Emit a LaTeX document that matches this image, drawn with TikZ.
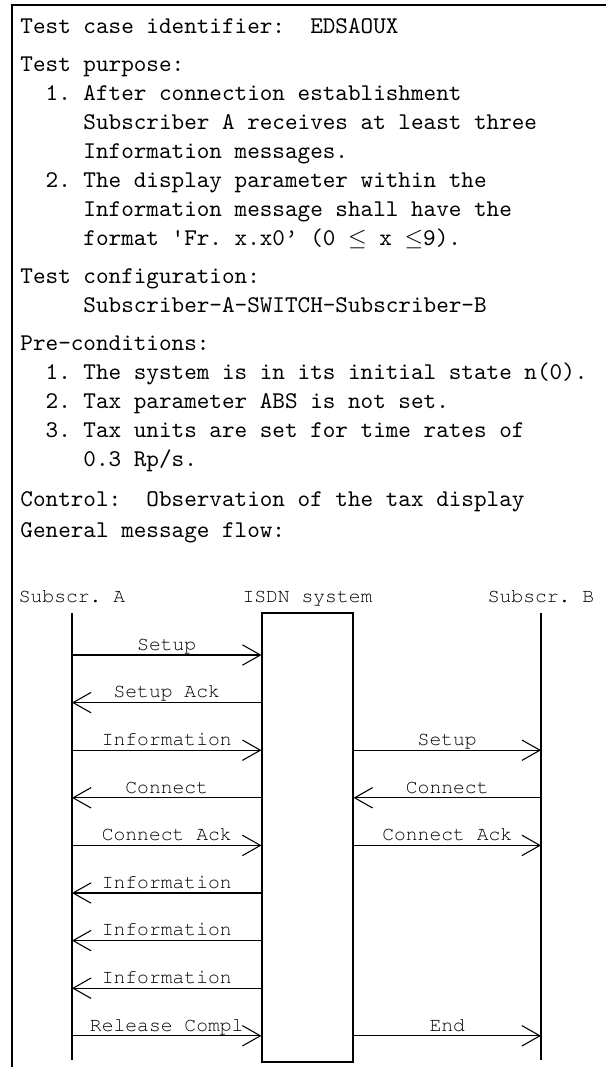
\documentclass[tikz,border=0pt]{standalone}
\usepackage[T1]{fontenc}
\usepackage{fontspec}
\usepackage{tikz}
\usetikzlibrary{arrows.meta}
\frenchspacing
\newcommand{\chartfont}{\fontencoding{T1}\fontfamily{pcr}\fontsize{8.2}{10}\selectfont}
\tikzset{
    % Lines of the test description
    descline/.style={
        anchor=base west,
        inner sep=0pt,
        font=\ttfamily
    },
    % Frame round the sheet
    sheetframe/.style={
        line width=1.2pt,
        draw=black
    },
    % Lifelines
    lifeline/.style={
        line width=0.45pt,
        draw=black
    },
    % System box
    sysbox/.style={
        draw=black,
        line width=0.45pt,
        minimum width=37.9pt,
        minimum height=187.1pt,
        inner sep=0pt
    },
    % Column headings
    colhead/.style={
        anchor=base,
        inner sep=0pt,
        font=\chartfont
    },
    % Message arrows
    msgarrow/.style={
        -{Straight Barb[length=7.5pt,width=8.5pt]},
        line width=0.45pt,
        draw=black
    },
    % Message labels
    msglabel/.style={
        midway,
        anchor=base,
        yshift=2pt,
        inner sep=0pt,
        font=\chartfont
    }
}

\begin{document}
\begin{tikzpicture}[x=0.41667pt, y=-0.41667pt]
        \useasboundingbox (0,0) rectangle (606,1067);

        % Frame
        \draw[sheetframe] (12,1067) -- (12,5) -- (606,5);

        % Test description
        \node[descline] (ident) at (20,33) {Test case identifier:\ \ EDSAOUX};
        \node[descline] (purp) at (20,71) {Test purpose:};
        \node[descline] (purp1a) at (45.2,100) {1. After connection establishment};
        \node[descline] (purp1b) at (83,129) {Subscriber A receives at least three};
        \node[descline] (purp1c) at (83,158) {Information messages.};
        \node[descline] (purp2a) at (45.2,187) {2. The display parameter within the};
        \node[descline] (purp2b) at (83,216) {Information message shall have the};
        \node[descline] (purp2c) at (83,245) {format 'Fr. x.x0’ (0 $\leq$ x $\leq$9).};
        \node[descline] (conf) at (20,283) {Test configuration:};
        \node[descline] (conf1) at (83,312) {Subscriber-A-SWITCH-Subscriber-B};
        \node[descline] (pre) at (20,350) {Pre-conditions:};
        \node[descline] (pre1) at (45.2,379) {1. The system is in its initial state n(0).};
        \node[descline] (pre2) at (45.2,408) {2. Tax parameter ABS is not set.};
        \node[descline] (pre3a) at (45.2,437) {3. Tax units are set for time rates of};
        \node[descline] (pre3b) at (83,466) {0.3 Rp/s.};
        \node[descline] (ctrl) at (20,506) {Control:\ \ Observation of the tax display};
        \node[descline] (flow) at (20,537) {General message flow:};

        % Column headings
        \node[colhead] (headA) at (72,602) {Subscr. A};
        \node[colhead] (headS) at (307.5,602) {ISDN system};
        \node[colhead] (headB) at (541,602) {Subscr. B};

        % System box
        \node[sysbox] (isdn) at (307.5,837.5) {};

        % Lifelines
        \coordinate (topA) at (72,613);
        \coordinate (botA) at (72,1060);
        \coordinate (topB) at (541,613);
        \coordinate (botB) at (541,1060);
        \draw[lifeline] (topA) -- (botA);
        \draw[lifeline] (topB) -- (botB);

        % Message rows
        \coordinate (m1) at (72,655);
        \coordinate (m2) at (72,702.6);
        \coordinate (m3) at (72,750.2);
        \coordinate (m4) at (72,797.8);
        \coordinate (m5) at (72,845.4);
        \coordinate (m6) at (72,893);
        \coordinate (m7) at (72,940.6);
        \coordinate (m8) at (72,988.2);
        \coordinate (m9) at (72,1035.8);

        % Messages
        \draw[msgarrow] (m1) -- node[msglabel]{Setup} (m1 -| isdn.west);
        \draw[msgarrow] (m2 -| isdn.west) -- node[msglabel]{Setup Ack} (m2);
        \draw[msgarrow] (m3) -- node[msglabel]{Information} (m3 -| isdn.west);
        \draw[msgarrow] (m3 -| isdn.east) -- node[msglabel]{Setup} (m3 -| topB);
        \draw[msgarrow] (m4 -| isdn.west) -- node[msglabel]{Connect} (m4);
        \draw[msgarrow] (m4 -| topB) -- node[msglabel]{Connect} (m4 -| isdn.east);
        \draw[msgarrow] (m5) -- node[msglabel]{Connect Ack} (m5 -| isdn.west);
        \draw[msgarrow] (m5 -| isdn.east) -- node[msglabel]{Connect Ack} (m5 -| topB);
        \draw[msgarrow] (m6 -| isdn.west) -- node[msglabel]{Information} (m6);
        \draw[msgarrow] (m7 -| isdn.west) -- node[msglabel]{Information} (m7);
        \draw[msgarrow] (m8 -| isdn.west) -- node[msglabel]{Information} (m8);
        \draw[msgarrow] (m9) -- node[msglabel]{Release Compl} (m9 -| isdn.west);
        \draw[msgarrow] (m9 -| isdn.east) -- node[msglabel]{End} (m9 -| topB);
    \end{tikzpicture}
\end{document}
